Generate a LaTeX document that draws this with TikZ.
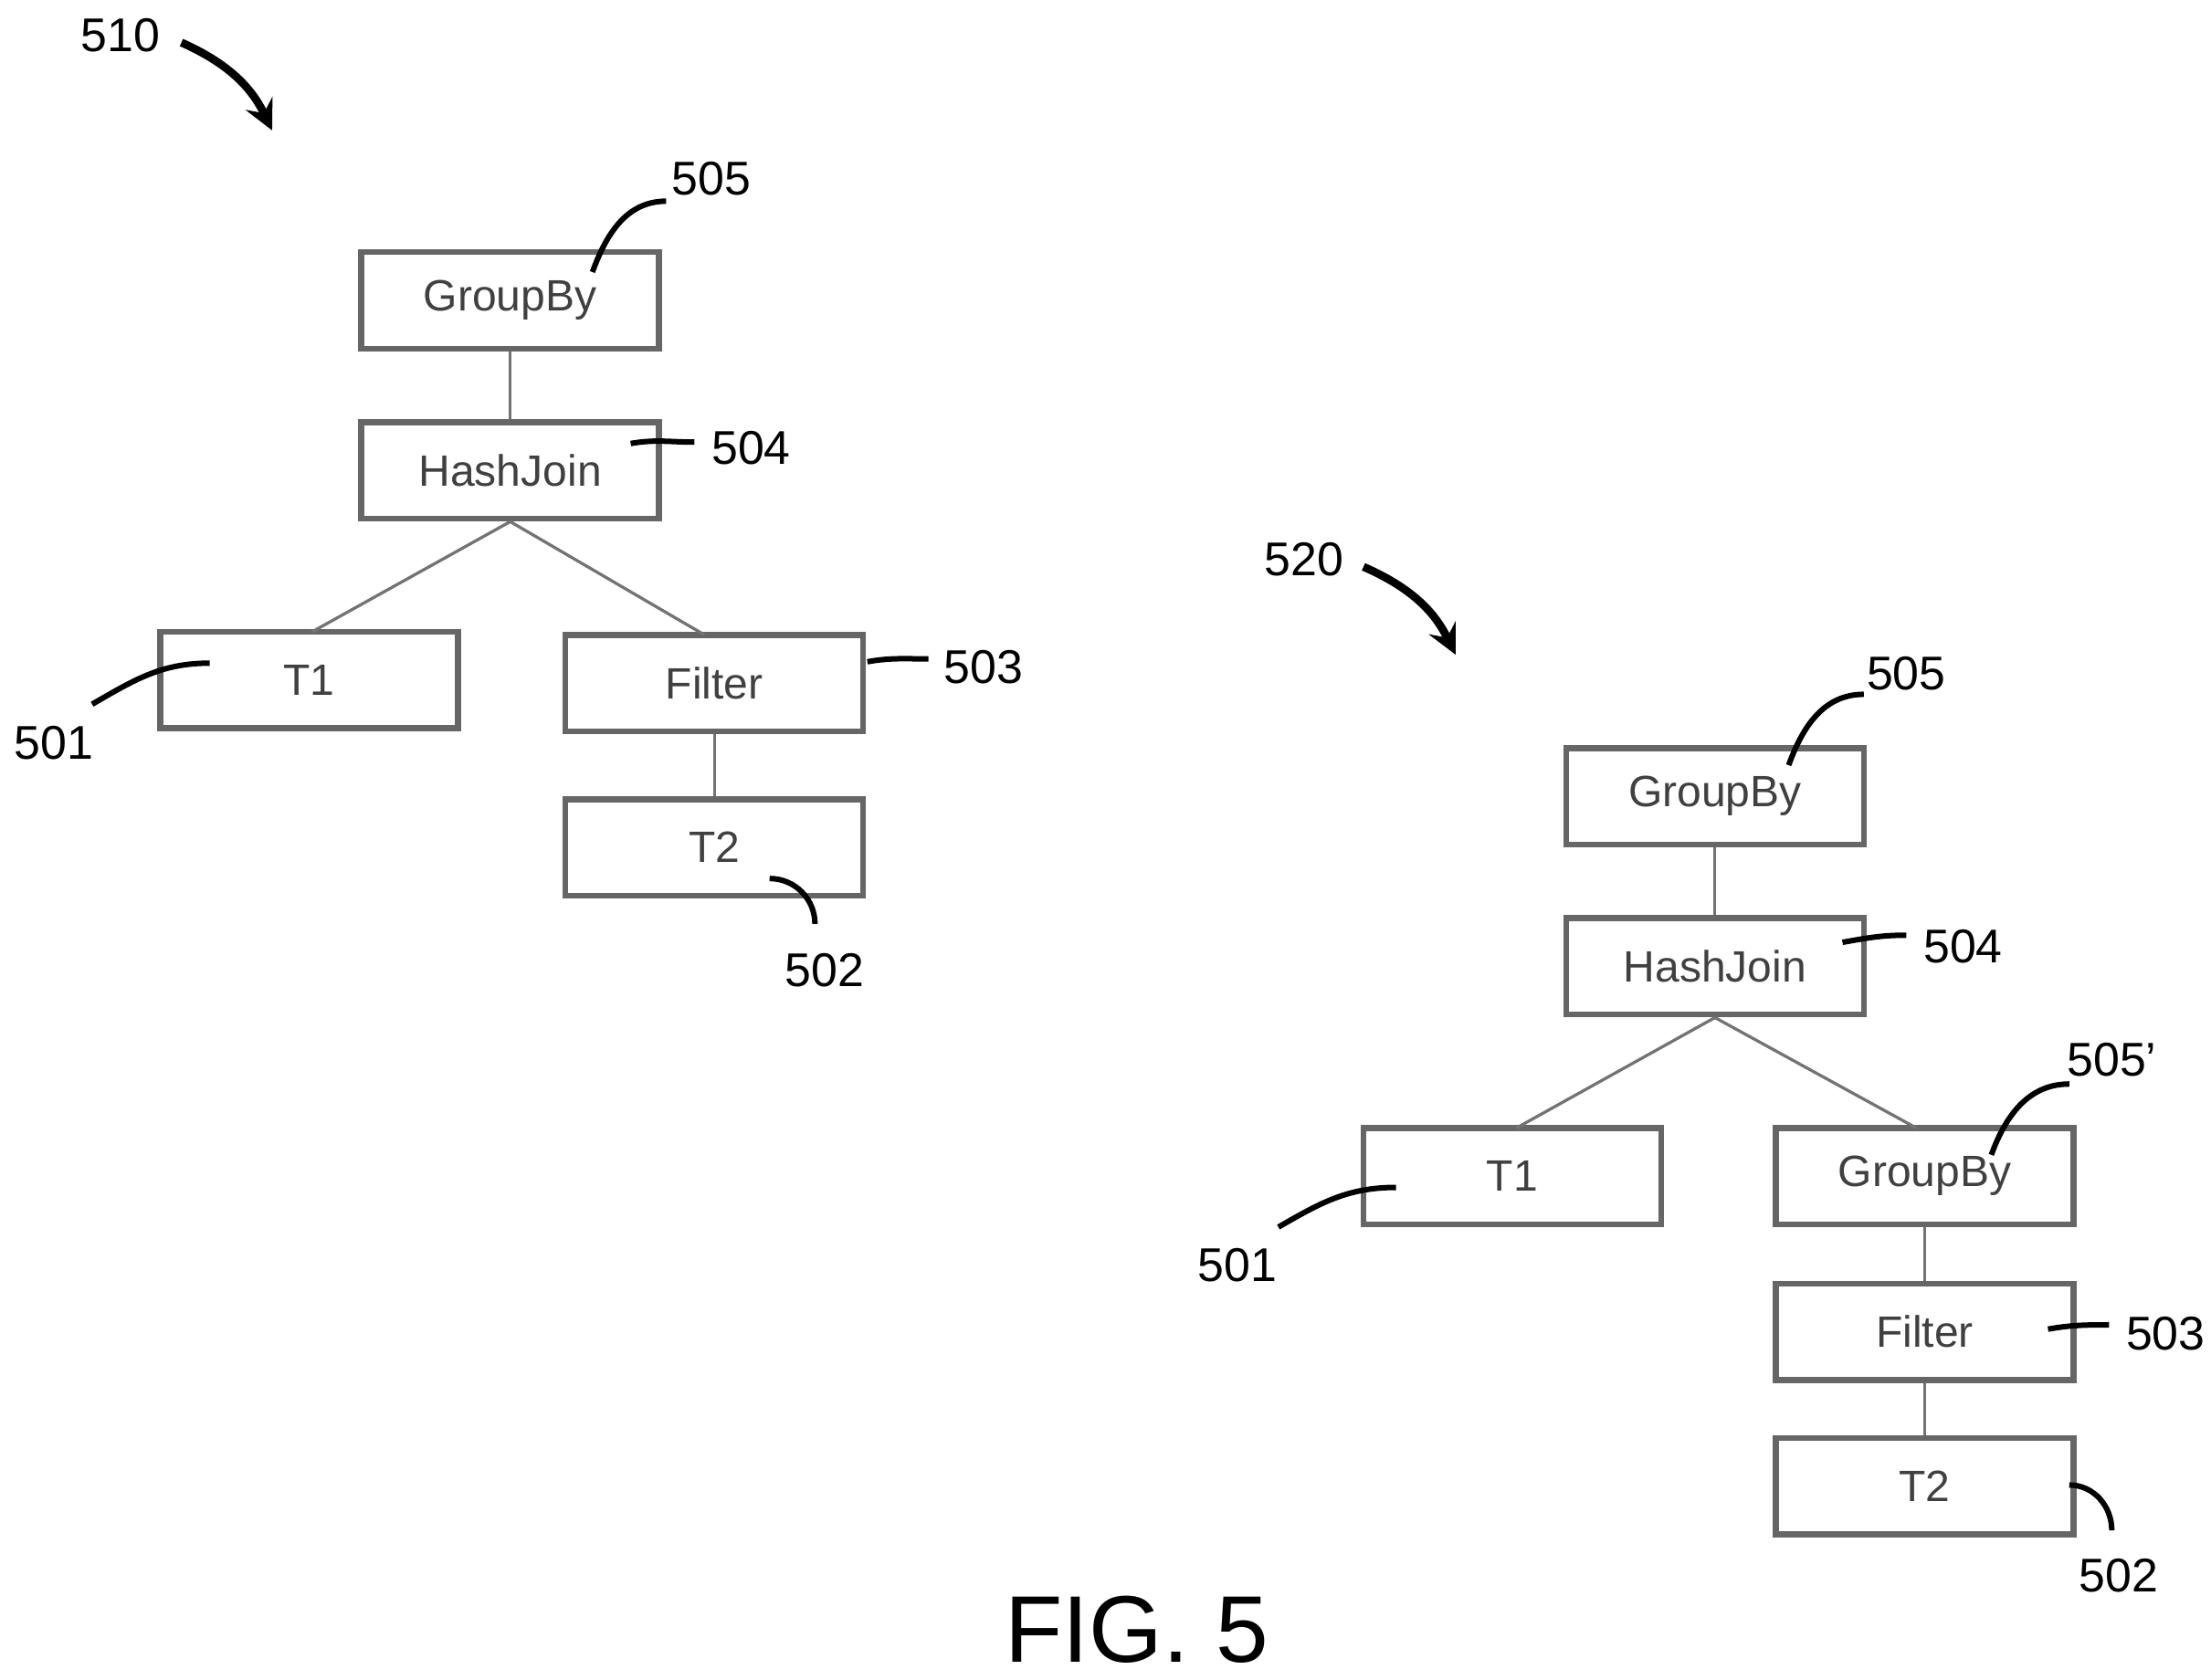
\documentclass[tikz,border=0pt]{standalone}
\usepackage{fontspec}
\setmainfont{Liberation Sans}
\begin{document}
\begin{tikzpicture}[x=0.01cm,y=-0.01cm,
            box/.style={rectangle, draw=black!60, line width=1.2pt, minimum width=2.1cm, minimum height=0.68cm, text centered, font=\fontsize{8.8}{10}\selectfont, text=black!75},
            link/.style={draw=black!55, line width=0.6pt},
            lead/.style={line width=1.1pt},
            ref/.style={font=\fontsize{9.5}{11}\selectfont},
            bigarrow/.style={->, >=stealth, line width=1.6pt}
        ]
            \useasboundingbox (0,0) rectangle (1560,1185);
            % left tree 510
            \node[box] (gb) at (360,212) {GroupBy};
            \node[box] (hj) at (360,332) {HashJoin};
            \node[box] (ta) at (218,480) {T1};
            \node[box] (fi) at (504,482) {Filter};
            \node[box] (tb) at (504,598) {T2};
            \draw[link] (gb) -- (hj);
            \draw[link] (hj.south) -- (220,446);
            \draw[link] (hj.south) -- (497,448);
            \draw[link] (fi) -- (tb);
            \node[ref] (l510) at (85,25) {510};
            \node[ref] (l505) at (502,126) {505};
            \node[ref] (l504) at (530,316) {504};
            \node[ref] (l501) at (38,524) {501};
            \node[ref] (l503) at (694,471) {503};
            \node[ref] (l502) at (582,685) {502};
            \draw[bigarrow] (128,30) to[bend left=20] (192,92);
            \draw[lead] (470,142) to[out=180,in=70] (418,192);
            \draw[lead] (490,312) to[out=180,in=10] (445,313);
            \draw[lead] (65,497) to[out=30,in=180] (148,468);
            \draw[lead] (655,465) to[out=180,in=10] (612,467);
            \draw[lead] (575,652) to[out=90,in=0] (543,620);
            % right tree 520
            \node[box] (gb2) at (1210,562) {GroupBy};
            \node[box] (hj2) at (1210,682) {HashJoin};
            \node[box] (ta2) at (1067,830) {T1};
            \node[box] (gc2) at (1358,830) {GroupBy};
            \node[box] (fi2) at (1358,940) {Filter};
            \node[box] (tb2) at (1358,1049) {T2};
            \draw[link] (gb2) -- (hj2);
            \draw[link] (hj2.south) -- (1070,796);
            \draw[link] (hj2.south) -- (1352,796);
            \draw[link] (gc2) -- (fi2);
            \draw[link] (fi2) -- (tb2);
            \node[ref] (l520) at (920,395) {520};
            \node[ref] (m505) at (1345,475) {505};
            \node[ref] (m504) at (1385,668) {504};
            \node[ref] (m505p) at (1490,748) {505'};
            \node[ref] (m501) at (873,893) {501};
            \node[ref] (m503) at (1528,941) {503};
            \node[ref] (m502) at (1495,1112) {502};
            \draw[bigarrow] (962,400) to[bend left=20] (1027,462);
            \draw[lead] (1315,490) to[out=180,in=70] (1262,540);
            \draw[lead] (1345,660) to[out=180,in=10] (1300,665);
            \draw[lead] (1460,765) to[out=180,in=70] (1405,815);
            \draw[lead] (902,866) to[out=30,in=180] (985,838);
            \draw[lead] (1488,935) to[out=180,in=10] (1445,938);
            \draw[lead] (1490,1080) to[out=90,in=0] (1460,1048);
            \node[font=\fontsize{19}{22}\selectfont] (fig) at (802,1150) {FIG. 5};
        \end{tikzpicture}
\end{document}
